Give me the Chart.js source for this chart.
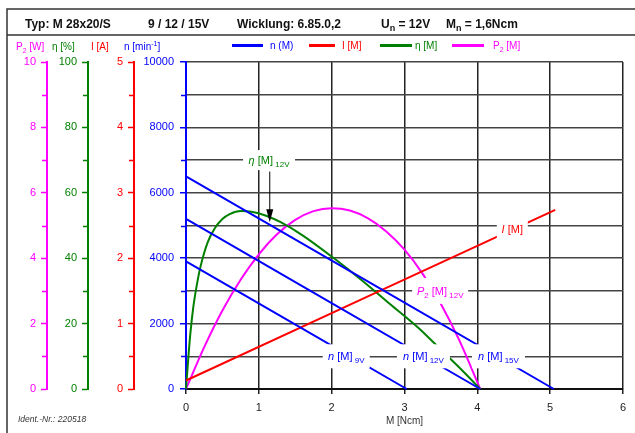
<!DOCTYPE html>
<html>
<head>
<meta charset="utf-8">
<script src="https://cdn.jsdelivr.net/npm/chart.js@4"></script>
<style>
  html, body { margin: 0; padding: 0; background: #fff; }
</style>
</head>
<body>
<canvas id="motor-chart" width="635" height="433"></canvas>
<script>
// Kennlinien M 28x20/S, Drehzahl bei 9 / 12 / 15 V
const torque9V = [0, 3.03];
const speed9V = [3900, 0];
const torque12V = [0, 4.04];
const speed12V = [5200, 0];
const torque15V = [0, 5.05];
const speed15V = [6500, 0];

// Strom I [A]
const currentTorque = [0, 5.07];
const current = [0.13, 2.74];

// Wirkungsgrad eta [%] bei 12 V
const effTorque = [0, 0.03, 0.06, 0.1, 0.15, 0.2, 0.3, 0.4, 0.5, 0.6, 0.75, 0.9, 1.1, 1.3, 1.6, 2.0, 2.4, 2.8, 3.2, 3.5, 3.8, 4.04];
const efficiency = [0, 9, 17, 25, 32, 37.5, 45, 49.3, 52, 53.5, 54.4, 54.2, 53, 51, 47, 40.5, 33.5, 26, 18.5, 12, 5.5, 0];

// Abgabeleistung P2 [W] bei 12 V
const powerTorque = [0, 0.25, 0.5, 0.75, 1.0, 1.25, 1.5, 1.75, 2.0, 2.25, 2.5, 2.75, 3.0, 3.25, 3.5, 3.75, 4.04];
const power = [0, 1.28, 2.4, 3.34, 4.12, 4.73, 5.17, 5.44, 5.53, 5.46, 5.22, 4.82, 4.26, 3.52, 2.6, 1.5, 0];

const BLUE = "#0000ff", RED = "#ff0000", GREEN = "#008000", MAGENTA = "#ff00ff";
const FONT = "'Liberation Sans', Arial, Helvetica, sans-serif";
const NONE = "rgba(0,0,0,0)";

Chart.defaults.font.family = FONT;
Chart.defaults.font.size = 11;

function pts(xs, ys) {
  return xs.map((x, i) => ({ x: x, y: ys[i] }));
}

function lineSet(label, data, color, axis) {
  return {
    label: label,
    data: data,
    borderColor: color,
    borderWidth: 2,
    pointRadius: 0,
    fill: false,
    clip: false,
    yAxisID: axis,
    cubicInterpolationMode: "monotone"
  };
}

// linke Zusatzachsen (P2, eta, I) - kurze Zwischenstriche kommen aus dem Plugin
function sideAxis(min, max, step, labelStep, color, width, weight) {
  return {
    type: "linear",
    position: "left",
    min: min,
    max: max,
    weight: weight,
    afterFit: s => { s.width = width; },
    border: { display: true, color: color, width: 2 },
    grid: {
      drawOnChartArea: false,
      drawTicks: true,
      tickLength: 6,
      tickWidth: 1.5,
      tickColor: c => (c.tick && c.tick.value % labelStep === 0 ? color : NONE)
    },
    ticks: {
      stepSize: step,
      autoSkip: false,
      color: color,
      padding: 5,
      callback: v => (v % labelStep === 0 ? v : "")
    }
  };
}

// Text mit Index / Kursiv
function richText(ctx, x, y, parts, size, color, bold) {
  let cx = x;
  parts.forEach(p => {
    const s = p.sub || p.sup ? Math.round(size * 0.72) : size;
    ctx.font = (p.italic ? "italic " : "") + (bold ? "bold " : "") + s + "px " + FONT;
    ctx.fillStyle = color;
    ctx.textAlign = "left";
    ctx.textBaseline = "alphabetic";
    const dy = p.sub ? 3 : (p.sup ? -4 : 0);
    ctx.fillText(p.t, cx, y + dy);
    cx += ctx.measureText(p.t).width;
  });
  return cx - x;
}

function textWidth(ctx, parts, size) {
  let w = 0;
  parts.forEach(p => {
    const s = p.sub ? Math.round(size * 0.72) : size;
    ctx.font = (p.italic ? "italic " : "") + s + "px " + FONT;
    w += ctx.measureText(p.t).width;
  });
  return w;
}

// Beschriftungen im Diagramm
const notes = [
  { m: 1.14, n: 7000, w: 52, h: 20, color: GREEN, parts: [{ t: "η", italic: true }, { t: " [M]" }, { t: " 12V", sub: true }] },
  { m: 4.48, n: 4900, w: 31, h: 22, color: RED, parts: [{ t: "I", italic: true }, { t: " [M]" }] },
  { m: 3.49, n: 3000, w: 56, h: 26, color: MAGENTA, parts: [{ t: "P", italic: true }, { t: "2", sub: true }, { t: " [M]" }, { t: " 12V", sub: true }] },
  { m: 2.2, n: 1000, w: 47, h: 24, color: BLUE, parts: [{ t: "n", italic: true }, { t: " [M]" }, { t: " 9V", sub: true }] },
  { m: 3.26, n: 1000, w: 53, h: 24, color: BLUE, parts: [{ t: "n", italic: true }, { t: " [M]" }, { t: " 12V", sub: true }] },
  { m: 4.29, n: 1000, w: 53, h: 24, color: BLUE, parts: [{ t: "n", italic: true }, { t: " [M]" }, { t: " 15V", sub: true }] }
];

const decor = {
  id: "decor",
  beforeDraw(chart) {
    const ctx = chart.ctx;
    ctx.save();
    ctx.fillStyle = "#fff";
    ctx.fillRect(0, 0, chart.width, chart.height);
    ctx.restore();
  },
  afterDatasetsDraw(chart) {
    const ctx = chart.ctx;
    const xs = chart.scales.x, ys = chart.scales.y;
    ctx.save();
    notes.forEach(a => {
      const px = xs.getPixelForValue(a.m), py = ys.getPixelForValue(a.n);
      ctx.fillStyle = "#fff";
      ctx.fillRect(px - a.w / 2, py - a.h / 2, a.w, a.h);
      const tw = textWidth(ctx, a.parts, 11);
      richText(ctx, px - tw / 2, py + 4, a.parts, 11, a.color, false);
    });
    // Pfeil zur eta-Kurve
    const ax = xs.getPixelForValue(1.15);
    const y1 = ys.getPixelForValue(6650), y2 = ys.getPixelForValue(5100);
    ctx.strokeStyle = "#000";
    ctx.lineWidth = 1;
    ctx.beginPath();
    ctx.moveTo(ax, y1);
    ctx.lineTo(ax, y2 - 12);
    ctx.stroke();
    ctx.fillStyle = "#000";
    ctx.beginPath();
    ctx.moveTo(ax - 3.5, y2 - 13);
    ctx.lineTo(ax + 3.5, y2 - 13);
    ctx.lineTo(ax, y2);
    ctx.closePath();
    ctx.fill();
    ctx.restore();
  },
  afterDraw(chart) {
    const ctx = chart.ctx;
    ctx.save();

    // kurze Zwischenstriche an den linken Achsen
    ["yP", "yEta", "yI", "y"].forEach(id => {
      const s = chart.scales[id];
      ctx.strokeStyle = s.options.border.color;
      ctx.lineWidth = 1.5;
      s.ticks.forEach(t => {
        if (t.label !== "") return;
        const py = Math.round(s.getPixelForValue(t.value)) + 0.5;
        ctx.beginPath();
        ctx.moveTo(s.right - 5, py);
        ctx.lineTo(s.right - 1, py);
        ctx.stroke();
      });
    });

    // Rahmen
    ctx.strokeStyle = "#333";
    ctx.lineWidth = 1.5;
    ctx.beginPath();
    ctx.moveTo(7, 433);
    ctx.lineTo(7, 9);
    ctx.lineTo(635, 9);
    ctx.moveTo(7, 35);
    ctx.lineTo(635, 35);
    ctx.stroke();

    // Kopfzeile
    richText(ctx, 25, 28, [{ t: "Typ: M 28x20/S" }], 12, "#111", true);
    richText(ctx, 148, 28, [{ t: "9 / 12 / 15V" }], 12, "#111", true);
    richText(ctx, 237, 28, [{ t: "Wicklung: 6.85.0,2" }], 12, "#111", true);
    richText(ctx, 381, 28, [{ t: "U" }, { t: "n", sub: true }, { t: " = 12V" }], 12, "#111", true);
    richText(ctx, 446, 28, [{ t: "M" }, { t: "n", sub: true }, { t: " = 1,6Ncm" }], 12, "#111", true);

    // Achsentitel
    richText(ctx, 16, 50, [{ t: "P" }, { t: "2", sub: true }, { t: " [W]" }], 10, MAGENTA);
    richText(ctx, 52, 50, [{ t: "η [%]" }], 10, GREEN);
    richText(ctx, 91, 50, [{ t: "I [A]" }], 10, RED);
    richText(ctx, 124, 50, [{ t: "n [min" }, { t: "-1", sup: true }, { t: "]" }], 10, BLUE);

    // Legende
    const legend = [
      { x0: 232, x1: 263, tx: 270, color: BLUE, parts: [{ t: "n (M)" }] },
      { x0: 309, x1: 335, tx: 342, color: RED, parts: [{ t: "I [M]" }] },
      { x0: 380, x1: 412, tx: 415, color: GREEN, parts: [{ t: "η [M]" }] },
      { x0: 452, x1: 484, tx: 493, color: MAGENTA, parts: [{ t: "P" }, { t: "2", sub: true }, { t: " [M]" }] }
    ];
    legend.forEach(l => {
      ctx.strokeStyle = l.color;
      ctx.lineWidth = 3;
      ctx.beginPath();
      ctx.moveTo(l.x0, 45.5);
      ctx.lineTo(l.x1, 45.5);
      ctx.stroke();
      richText(ctx, l.tx, 49, l.parts, 10, l.color);
    });

    // Ident-Nr.
    richText(ctx, 18, 422, [{ t: "Ident.-Nr.: 220518", italic: true }], 8.5, "#333");
    ctx.restore();
  }
};

const ctx = document.getElementById("motor-chart").getContext("2d");

const motorChart = new Chart(ctx, {
  type: "line",
  data: {
    datasets: [
      lineSet("n 9V", pts(torque9V, speed9V), BLUE, "y"),
      lineSet("n 12V", pts(torque12V, speed12V), BLUE, "y"),
      lineSet("n 15V", pts(torque15V, speed15V), BLUE, "y"),
      lineSet("I", pts(currentTorque, current), RED, "yI"),
      lineSet("eta", pts(effTorque, efficiency), GREEN, "yEta"),
      lineSet("P2", pts(powerTorque, power), MAGENTA, "yP")
    ]
  },
  options: {
    responsive: false,
    animation: false,
    devicePixelRatio: 1,
    layout: { padding: { left: 10, top: 62, right: 12, bottom: 0 } },
    plugins: {
      legend: { display: false },
      title: { display: false },
      tooltip: { enabled: false }
    },
    scales: {
      x: {
        type: "linear",
        min: 0,
        max: 6,
        afterFit: s => { s.height = 44; },
        border: { display: true, color: "#111", width: 2 },
        grid: {
          color: c => (c.tick && c.tick.value === 0 ? NONE : "#222"),
          lineWidth: 1.5,
          tickLength: 5,
          tickColor: "#222"
        },
        ticks: { stepSize: 1, color: "#222", padding: 7, font: { size: 11 } },
        title: { display: true, text: "M [Ncm]", color: "#333", font: { size: 10 }, padding: { top: 0, bottom: 6 } }
      },
      yP: sideAxis(0, 10, 1, 2, MAGENTA, 37, 4),
      yEta: sideAxis(0, 100, 10, 20, GREEN, 41, 3),
      yI: sideAxis(0, 5, 0.5, 1, RED, 46, 2),
      y: {
        type: "linear",
        position: "left",
        min: 0,
        max: 10000,
        weight: 1,
        afterFit: s => { s.width = 52; },
        border: { display: true, color: BLUE, width: 2 },
        grid: {
          color: c => (c.tick && c.tick.value === 0 ? NONE : "#444"),
          lineWidth: 1.5,
          tickLength: 6,
          tickWidth: 1.5,
          tickColor: c => (c.tick && c.tick.value % 2000 === 0 ? BLUE : NONE)
        },
        ticks: {
          stepSize: 1000,
          autoSkip: false,
          color: BLUE,
          padding: 6,
          callback: v => (v % 2000 === 0 ? v : "")
        }
      }
    }
  },
  plugins: [decor]
});
</script>
</body>
</html>
